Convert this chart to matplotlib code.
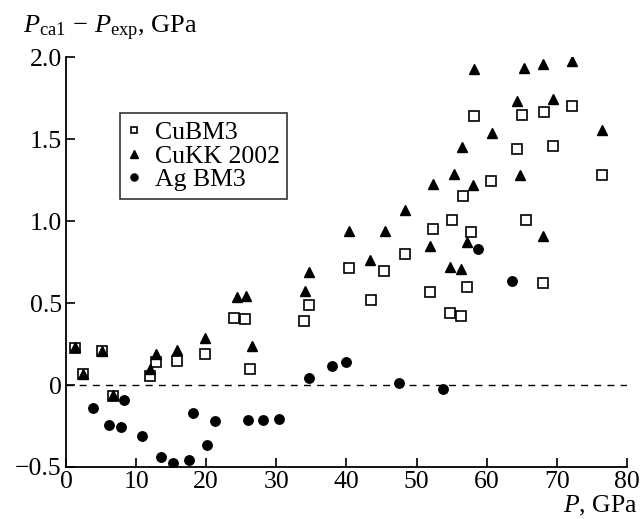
import matplotlib
matplotlib.use("Agg")
import matplotlib.pyplot as plt

plt.rcParams['font.family'] = 'Liberation Serif'
plt.rcParams['mathtext.fontset'] = 'custom'
plt.rcParams['mathtext.rm'] = 'Liberation Serif'
plt.rcParams['mathtext.it'] = 'Liberation Serif:italic'

# CuBM3 (open squares)
cubm3_p = [1.3, 2.4, 5.2, 6.7, 12.0, 12.8, 15.9, 19.8, 24.0, 25.5, 26.3, 33.9, 34.6,
           40.4, 43.5, 45.3, 48.4, 51.9, 52.4, 54.8, 55.0, 56.3, 57.2, 57.7, 56.6,
           58.2, 60.6, 64.3, 65.1, 65.6, 68.0, 68.2, 69.4, 72.2, 76.5]
cubm3_d = [0.225, 0.065, 0.205, -0.067, 0.053, 0.14, 0.149, 0.187, 0.41, 0.405, 0.098, 0.388, 0.49,
           0.716, 0.52, 0.693, 0.80, 0.565, 0.954, 0.441, 1.004, 0.419, 0.596, 0.931, 1.152,
           1.643, 1.242, 1.439, 1.646, 1.004, 0.622, 1.663, 1.457, 1.70, 1.283]

# CuKK 2002 (filled triangles)
cukk_p = [1.3, 2.4, 5.2, 6.7, 12.0, 12.8, 15.9, 19.8, 24.4, 25.6, 26.5, 34.1, 34.6,
          40.4, 43.4, 45.5, 48.4, 51.9, 54.7, 56.3, 57.2, 68.0, 52.4, 55.4, 58.0,
          56.5, 60.8, 64.8, 64.3, 69.5, 76.5, 58.2, 65.3, 68.0, 72.2]
cukk_d = [0.23, 0.07, 0.205, -0.06, 0.10, 0.19, 0.215, 0.285, 0.535, 0.54, 0.235, 0.575, 0.69,
          0.94, 0.765, 0.94, 1.065, 0.845, 0.72, 0.705, 0.875, 0.91, 1.225, 1.29, 1.22,
          1.45, 1.535, 1.28, 1.735, 1.745, 1.555, 1.93, 1.935, 1.955, 1.975]

# Ag BM3 (filled circles)
ag_p = [3.9, 6.2, 7.9, 8.3, 10.9, 13.6, 15.3, 17.5, 18.1, 20.1, 21.3, 26.0, 28.1,
        30.4, 34.7, 37.9, 40.0, 47.5, 53.7, 58.7, 63.6]
ag_d = [-0.142, -0.244, -0.258, -0.091, -0.309, -0.441, -0.476, -0.459, -0.168, -0.363,
        -0.219, -0.211, -0.211, -0.207, 0.043, 0.118, 0.14, 0.015, -0.026, 0.832, 0.634]

fig = plt.figure(figsize=(6.42, 5.19), dpi=100)
ax = fig.add_axes([0.1028, 0.1002, 0.8738, 0.7898])

ax.axhline(0, color='black', lw=1.0, ls=(0, (5, 4.5)), zorder=1)
ax.plot(cubm3_p, cubm3_d, 's', ms=6.5, mfc='white', mec='black', mew=1.2, label='CuBM3', zorder=3)
ax.plot(cukk_p, cukk_d, '^', ms=7.5, mfc='black', mec='black', label='CuKK 2002', zorder=4)
ax.plot(ag_p, ag_d, 'o', ms=6.8, mfc='black', mec='black', label='Ag BM3', zorder=5)

ax.set_xlim(0, 80)
ax.set_ylim(-0.5, 2.0)
ax.set_xticks([0, 10, 20, 30, 40, 50, 60, 70, 80])
ax.set_yticks([-0.5, 0, 0.5, 1.0, 1.5, 2.0])
ax.set_yticklabels(['\u22120.5', '0', '0.5', '1.0', '1.5', '2.0'])
ax.spines['top'].set_visible(False)
ax.spines['right'].set_visible(False)
for s in ['left', 'bottom']:
    ax.spines[s].set_linewidth(1.3)
ax.tick_params(direction='in', length=6.5, width=1.2, labelsize=18.5, pad=3)

leg = ax.legend(loc='upper left', bbox_to_anchor=(0.0963, 0.8627), fontsize=18.5, frameon=True,
                fancybox=False, edgecolor='black', handlelength=0.5, handletextpad=0.55,
                borderpad=0.3, labelspacing=0.02, borderaxespad=0, markerscale=0.75)
leg.get_frame().set_linewidth(1.2)

fig.text(0.036, 0.936, r'$P_{\rm ca1}\,-\,P_{\rm exp}$, GPa', fontsize=19, ha='left', va='baseline')
fig.text(0.994, 0.012, r'$P$, GPa', fontsize=18.5, ha='right', va='baseline')

fig.savefig('out.png', dpi=100)
